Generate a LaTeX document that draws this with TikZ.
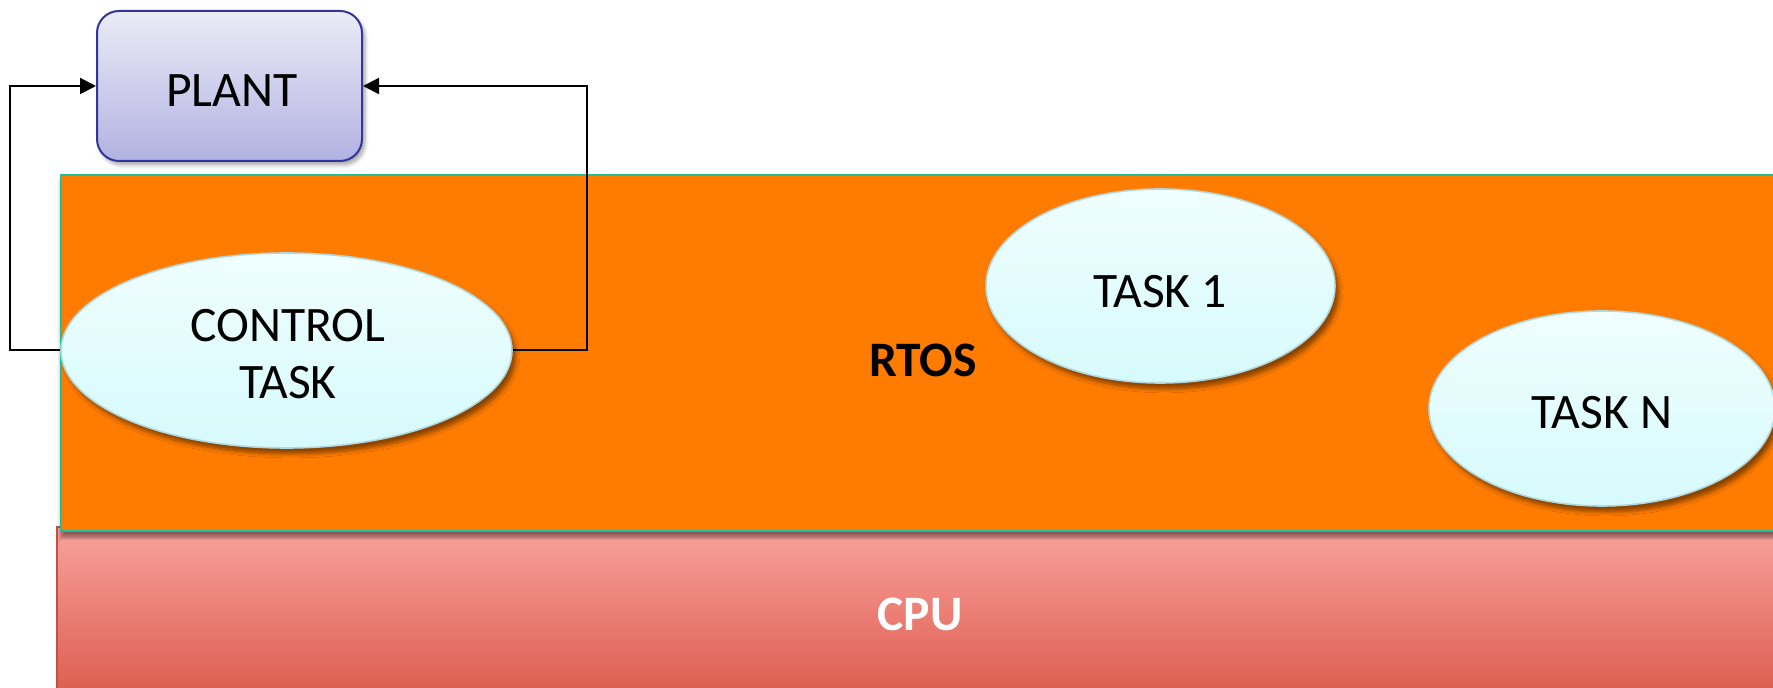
\documentclass[tikz,border=0pt]{standalone}
\usepackage{fontspec}
\setmainfont{Carlito}
\usetikzlibrary{shapes.geometric,shadows.blur,arrows.meta}
\definecolor{rtosorange}{HTML}{FF7C00}
\definecolor{rtosedge}{HTML}{1FBF9C}
\definecolor{cputop}{HTML}{F9A29C}
\definecolor{cpubottom}{HTML}{DC5A4D}
\definecolor{cpuedge}{HTML}{C05048}
\definecolor{tasktop}{HTML}{F0FEFE}
\definecolor{taskbottom}{HTML}{D6FAFC}
\definecolor{taskedge}{HTML}{B0D8DF}
\definecolor{planttop}{HTML}{ECEBF7}
\definecolor{plantbottom}{HTML}{B2B2E2}
\definecolor{plantedge}{HTML}{33359A}
\begin{document}
\begin{tikzpicture}[x=0.5pt,y=-0.5pt,
  every node/.style={font=\fontsize{24.8}{28.5}\selectfont, text=black},
  taskoval/.style={ellipse, draw=taskedge, line width=0.8pt, inner sep=0pt,
    top color=tasktop, bottom color=taskbottom,
    blur shadow={shadow xshift=2pt, shadow yshift=-3pt, shadow blur steps=6, shadow opacity=45}},
  plantbox/.style={rectangle, rounded corners=11pt, draw=plantedge, line width=1pt,
    top color=planttop, bottom color=plantbottom,
    minimum width=132.5pt, minimum height=75pt,
    blur shadow={shadow xshift=1.5pt, shadow yshift=-2pt, shadow blur steps=5, shadow opacity=35}},
  tasktext/.style={align=center, inner sep=0pt},
  layerlabel/.style={font=\fontsize{24.8}{28.5}\selectfont\bfseries},
  link/.style={draw=black, line width=1pt, -{Triangle[length=8pt,width=8pt]}}
]
\useasboundingbox (0,0) rectangle (1773,688);

% CPU layer
\shade[top color=cputop, bottom color=cpubottom] (57,527) rectangle (1800,700);
\draw[cpuedge, line width=0.8pt] (57,700) -- (57,527) -- (66,527);
\node[layerlabel, text=white] (cpu) at (920,614) {CPU};

% RTOS layer
\fill[rtosorange, draw=rtosedge, line width=1.2pt,
  blur shadow={shadow xshift=0pt, shadow yshift=-3pt, shadow blur steps=6, shadow opacity=45}]
  (61,175) rectangle (1800,531);
\node[layerlabel] (rtos) at (923,360) {RTOS};

% tasks
\node[taskoval, minimum width=225.5pt, minimum height=97.5pt] (ctrl) at (286.5,350.5) {};
\node[tasktext] (ctrltext) at (288,354) {CONTROL\\TASK};
\node[taskoval, minimum width=174.5pt, minimum height=97pt] (task1) at (1160.5,286) {};
\node[tasktext] (task1text) at (1160,292) {TASK 1};
\node[taskoval, minimum width=173pt, minimum height=97.5pt] (taskn) at (1602,408.5) {};
\node[tasktext] (taskntext) at (1602,413) {TASK N};

% plant
\node[plantbox] (plant) at (229.5,86) {};
\node[tasktext] (planttext) at (232,90.5) {PLANT};

% control loop
\draw[link] (ctrl.west) -- ++(-50,0) |- (plant.west);
\draw[link] (ctrl.east) -- ++(74,0) |- (plant.east);
\end{tikzpicture}
\end{document}
